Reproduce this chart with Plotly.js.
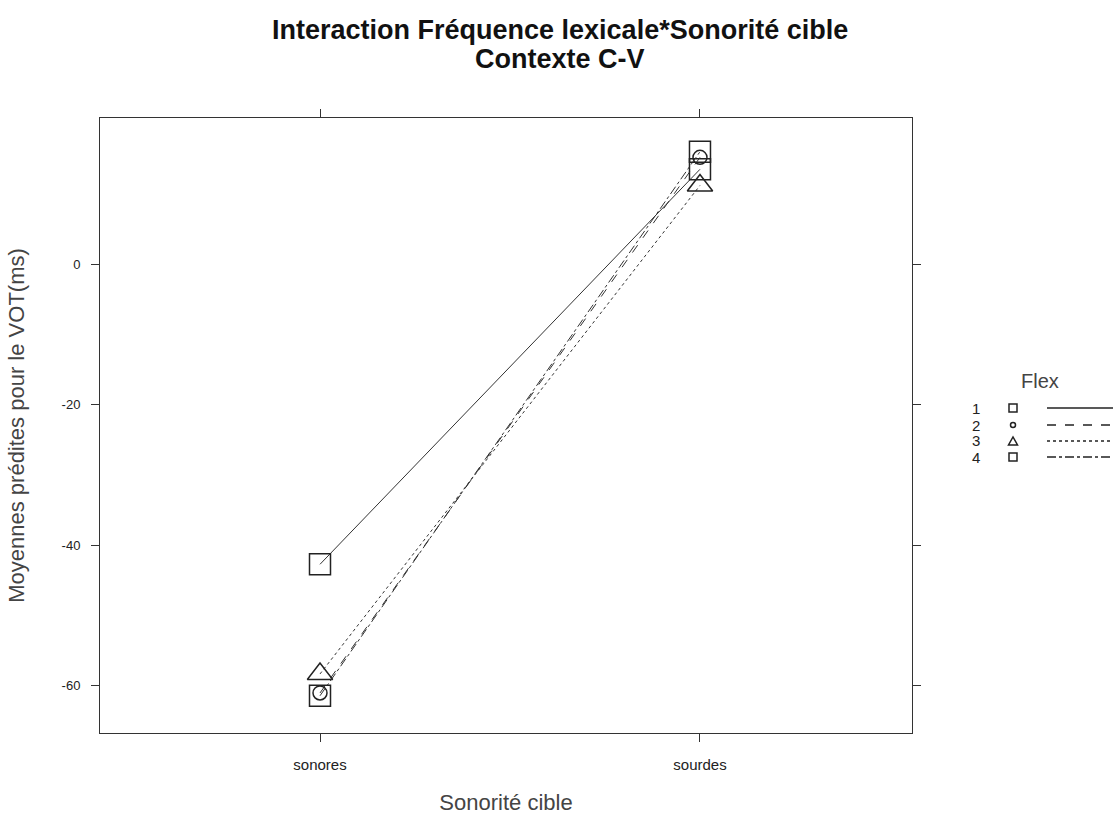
<!DOCTYPE html>
<html>
<head>
<meta charset="utf-8">
<script src="https://cdn.plot.ly/plotly-3.0.1.min.js"></script>
<style>html,body{margin:0;padding:0;background:#fff}#chart{width:1117px;height:818px}</style>
</head>
<body>
<div id="chart"></div>
<script>
// Data
const categories = ["sonores", "sourdes"];
const seriesNames = ["1", "2", "3", "4"];
const flex1 = [-42.7, 13.5];
const flex2 = [-61.0, 15.2];
const flex3 = [-58.3, 11.2];
const flex4 = [-61.4, 16.0];
const yTicks = [0, -20, -40, -60];

const seriesValues = [flex1, flex2, flex3, flex4];
const dashes = ["solid", "dash", "dot", "dashdot"];
const symbols = ["square-open", "circle-open", "triangle-up-open", "square-open"];
const sizes = [21, 14, 22, 21];
const lineColor = "#333";
const FONT = "Liberation Sans, Arial, sans-serif";

const traces = seriesValues.map((vals, i) => ({
  x: categories,
  y: vals,
  type: "scatter",
  mode: "lines+markers",
  name: seriesNames[i],
  showlegend: false,
  line: {color: lineColor, width: 1, dash: dashes[i]},
  marker: {symbol: symbols[i], size: sizes[i], color: "#222", line: {width: 1.5, color: "#222"}}
}));

// Custom legend (lattice style): number, symbol, line
const L = 100, R = 912, T = 118, B = 733;
const px = v => (v - L) / (R - L);
const py = v => (B - v) / (B - T);
const rowY = [408, 425, 441, 457];
const annotations = [{
  text: "Flex", xref: "paper", yref: "paper", x: px(1040), y: py(381),
  showarrow: false, font: {size: 20, color: "#444", family: FONT}, xanchor: "center", yanchor: "middle"
}, {
  text: "<b>Interaction Fréquence lexicale*Sonorité cible</b>", xref: "paper", yref: "paper", x: px(560), y: py(30),
  showarrow: false, font: {size: 27, color: "#111", family: FONT}, xanchor: "center", yanchor: "middle"
}, {
  text: "<b>Contexte C-V</b>", xref: "paper", yref: "paper", x: px(560), y: py(59),
  showarrow: false, font: {size: 27, color: "#111", family: FONT}, xanchor: "center", yanchor: "middle"
}];
const shapes = [];
seriesNames.forEach((n, i) => {
  const yy = rowY[i];
  annotations.push({
    text: n, xref: "paper", yref: "paper", x: px(976), y: py(yy),
    showarrow: false, font: {size: 15, color: "#222", family: FONT}, xanchor: "center", yanchor: "middle"
  });
  const cx = 1013;
  if (symbols[i] === "square-open") {
    shapes.push({type: "rect", xref: "paper", yref: "paper", x0: px(cx - 4), x1: px(cx + 4), y0: py(yy - 4), y1: py(yy + 4), line: {color: "#222", width: 1.5}});
  } else if (symbols[i] === "circle-open") {
    shapes.push({type: "circle", xref: "paper", yref: "paper", x0: px(cx - 2.5), x1: px(cx + 2.5), y0: py(yy - 2.5), y1: py(yy + 2.5), line: {color: "#222", width: 1.5}});
  } else {
    shapes.push({type: "path", xref: "paper", yref: "paper",
      path: `M ${px(cx - 4.5)} ${py(yy + 4)} L ${px(cx + 4.5)} ${py(yy + 4)} L ${px(cx)} ${py(yy - 4)} Z`, line: {color: "#222", width: 1.5}});
  }
  shapes.push({type: "line", xref: "paper", yref: "paper", x0: px(1047), x1: px(1113), y0: py(yy), y1: py(yy), line: {color: "#222", width: 1.3, dash: dashes[i]}});
});

const layout = {
  width: 1117, height: 818,
  margin: {l: L, r: 1117 - R, t: T, b: 818 - B},
  paper_bgcolor: "#fff", plot_bgcolor: "#fff",
  font: {family: FONT, color: "#222"},
  xaxis: {
    type: "category", range: [-0.579, 1.558],
    showline: true, linecolor: "#333", linewidth: 1, mirror: "ticks",
    ticks: "outside", ticklen: 8, tickcolor: "#333", showgrid: false, zeroline: false,
    ticklabelstandoff: 10,
    tickfont: {size: 15, color: "#222"},
    title: {text: "Sonorité cible", font: {size: 22, color: "#444"}, standoff: 22}
  },
  yaxis: {
    range: [-66.7, 20.8],
    tickvals: yTicks, ticktext: yTicks.map(String),
    showline: true, linecolor: "#333", linewidth: 1, mirror: "ticks",
    ticks: "outside", ticklen: 8, tickcolor: "#333", showgrid: false, zeroline: false,
    ticklabelstandoff: 8,
    tickfont: {size: 13, color: "#222"},
    title: {text: "Moyennes prédites pour le VOT(ms)", font: {size: 22, color: "#444"}, standoff: 30}
  },
  annotations: annotations,
  shapes: shapes,
  showlegend: false
};

Plotly.newPlot("chart", traces, layout, {staticPlot: true, displayModeBar: false});
</script>
</body>
</html>
